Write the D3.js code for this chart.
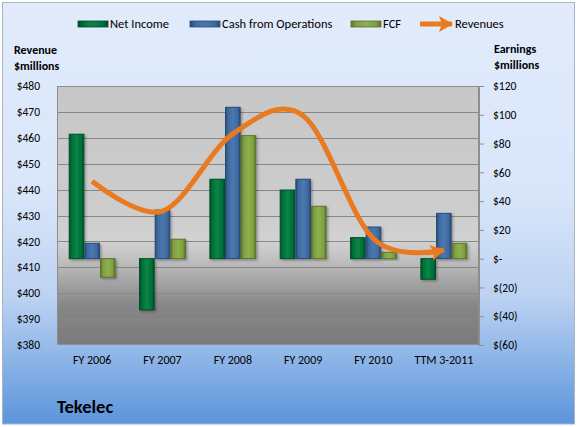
<!DOCTYPE html>
<html>
<head>
<meta charset="utf-8">
<script src="https://cdn.jsdelivr.net/npm/d3@7"></script>
<style>
  body{margin:0;background:#fff;}
  svg text{font-family:Carlito,Lato,"Liberation Sans",sans-serif;fill:#000;}
</style>
</head>
<body>
<div class="canvas"></div>
<script>
// values ($ millions)
const categories = ['FY 2006','FY 2007','FY 2008','FY 2009','FY 2010','TTM 3-2011'];
const netIncome  = [86.5, -35.6, 55.2, 47.7, 14.6, -14.3];
const cashOps    = [10.7, 33.8, 105.2, 55.2, 22.0, 31.5];
const fcf        = [-12.9, 13.5, 85.5, 36.4, 4.4, 10.7];
const revenues   = [443.2, 431.7, 461.5, 468.5, 421.0, 416.7];
const seriesNames = ['Net Income','Cash from Operations','FCF'];
const leftTicks  = [380,390,400,410,420,430,440,450,460,470,480];
const rightTicks = [-60,-40,-20,0,20,40,60,80,100,120];

const W = 577, H = 427;
const m = {t:86, r:98, b:82, l:57};   // plot area 57..479 x 86..345

const svg = d3.select('.canvas').append('svg')
  .attr('width',W).attr('height',H);
const defs = svg.append('defs');

// background of chart area
const bg = defs.append('linearGradient').attr('id','bgGrad')
  .attr('x1',0).attr('y1',0).attr('x2',0).attr('y2',1);
[[0,'#e1ebfb'],[0.45,'#d9e6fa'],[0.7,'#bcd2f2'],[1,'#5b95dc']].forEach(s=>{
  bg.append('stop').attr('offset',s[0]).attr('stop-color',s[1]);
});
// plot area grey
const pg = defs.append('linearGradient').attr('id','plotGrad')
  .attr('x1',0).attr('y1',0).attr('x2',0).attr('y2',1);
[[0,'#c7c7c7'],[0.5,'#cdcdcd'],[0.6,'#d2d2d2'],[0.68,'#bdbdbd'],[0.85,'#868686'],[1,'#7b7b7b']].forEach(s=>{
  pg.append('stop').attr('offset',s[0]).attr('stop-color',s[1]);
});

// bevel-ish fills for bars
const barColors = {
  'Net Income':           {base:'#007139', edge:'#004d26', hi:'#0b8446'},
  'Cash from Operations': {base:'#3e6aa0', edge:'#294b76', hi:'#4b78ae'},
  'FCF':                  {base:'#80a042', edge:'#5a722c', hi:'#8db04b'}
};
seriesNames.forEach((s,i)=>{
  const g = defs.append('linearGradient').attr('id','bar'+i)
    .attr('x1',0).attr('y1',0).attr('x2',1).attr('y2',0);
  const c = barColors[s];
  [[0,c.edge],[0.18,c.base],[0.5,c.hi],[0.82,c.base],[1,c.edge]].forEach(st=>{
    g.append('stop').attr('offset',st[0]).attr('stop-color',st[1]);
  });
});
defs.append('filter').attr('id','shadow')
  .attr('x','-20%').attr('y','-20%').attr('width','150%').attr('height','150%')
  .append('feDropShadow').attr('dx',1.5).attr('dy',1.5).attr('stdDeviation',1)
  .attr('flood-color','#000').attr('flood-opacity',0.3);

// arrow marker for the revenue line
const orange = '#ea7a1f';
defs.append('marker').attr('id','arrow')
  .attr('markerUnits','userSpaceOnUse')
  .attr('viewBox','0 0 14 16').attr('refX',13).attr('refY',8)
  .attr('markerWidth',14).attr('markerHeight',16).attr('orient','auto')
  .append('path').attr('d','M0,0 L14,8 L0,16 L3,8 Z').attr('fill',orange);

svg.append('rect').attr('x',2.5).attr('y',2.5).attr('width',572).attr('height',421.5)
  .attr('fill','url(#bgGrad)').attr('stroke','#a9b4c2');

// scales
const x = d3.scaleBand().domain(categories).range([m.l, W-m.r]);
const xs = d3.scaleBand().domain(seriesNames).range([0, x.bandwidth()])
  .paddingInner(0).paddingOuter(0.75);
const yL = d3.scaleLinear().domain([380,480]).range([H-m.b, m.t]);
const yR = d3.scaleLinear().domain([-60,120]).range([H-m.b, m.t]);

// plot area
svg.append('rect').attr('x',m.l).attr('y',m.t)
  .attr('width',W-m.r-m.l).attr('height',H-m.b-m.t)
  .attr('fill','url(#plotGrad)');

// gridlines on left axis
svg.append('g').selectAll('line').data(leftTicks.slice(1,-1)).enter()
  .append('line')
  .attr('x1',m.l).attr('x2',W-m.r)
  .attr('y1',d=>Math.round(yL(d))+0.5).attr('y2',d=>Math.round(yL(d))+0.5)
  .attr('stroke','#878787').attr('stroke-width',1);

// plot border
svg.append('rect').attr('x',m.l+0.5).attr('y',m.t+0.5)
  .attr('width',W-m.r-m.l-1).attr('height',H-m.b-m.t-1)
  .attr('fill','none').attr('stroke','#8e8e8e');

// left axis
const axL = svg.append('g').attr('transform',`translate(${m.l},0)`)
  .call(d3.axisLeft(yL).tickValues(leftTicks).tickSize(0).tickPadding(17)
    .tickFormat(d=>'$'+d));
axL.select('.domain').remove();
axL.selectAll('text').style('font-size','11.5px');

// right axis
const fmtR = d => d===0 ? '$-' : (d<0 ? `$(${-d})` : '$'+d);
const axR = svg.append('g').attr('transform',`translate(${W-m.r},0)`)
  .call(d3.axisRight(yR).tickValues(rightTicks).tickSize(5).tickSizeOuter(0)
    .tickPadding(9).tickFormat(fmtR));
axR.select('.domain').attr('stroke','#8e8e8e');
axR.selectAll('line').attr('stroke','#8e8e8e');
axR.selectAll('text').style('font-size','11.5px').attr('text-anchor','start');

// bottom axis labels
const axB = svg.append('g').attr('transform',`translate(0,${H-m.b})`)
  .call(d3.axisBottom(x).tickSize(0).tickPadding(10));
axB.select('.domain').remove();
axB.selectAll('text').style('font-size','12px');

// bars
const rows = categories.map((c,i)=>({cat:c, vals:[netIncome[i], cashOps[i], fcf[i]]}));
const groups = svg.append('g').selectAll('g').data(rows).enter()
  .append('g').attr('transform',d=>`translate(${x(d.cat)},0)`);
groups.selectAll('rect')
  .data(d=>d.vals.map((v,i)=>({name:seriesNames[i], v:v, i:i})))
  .enter().append('rect')
  .attr('x',d=>xs(d.name)+0.5)
  .attr('width',xs.bandwidth()-1)
  .attr('y',d=>yR(Math.max(0,d.v)))
  .attr('height',d=>Math.abs(yR(d.v)-yR(0)))
  .attr('fill',d=>`url(#bar${d.i})`)
  .attr('stroke',d=>barColors[d.name].edge)
  .attr('stroke-width',1)
  .attr('filter','url(#shadow)');

// revenue line, smoothed like the spreadsheet
const line = d3.line()
  .x((d,i)=>x(categories[i])+x.bandwidth()/2)
  .y(d=>yL(d))
  .curve(d3.curveCatmullRom.alpha(0));
svg.append('path').datum(revenues)
  .attr('d',line)
  .attr('fill','none')
  .attr('stroke',orange)
  .attr('stroke-width',5)
  .attr('marker-end','url(#arrow)');

// axis titles
const titleL = svg.append('text').attr('x',14).attr('y',54)
  .style('font-size','12px').style('font-weight','bold');
titleL.append('tspan').attr('x',14).text('Revenue');
titleL.append('tspan').attr('x',14).attr('dy',16).text('$millions');
const titleR = svg.append('text').attr('x',494).attr('y',53)
  .style('font-size','12px').style('font-weight','bold');
titleR.append('tspan').attr('x',494).text('Earnings');
titleR.append('tspan').attr('x',494).attr('dy',16).text('$millions');

// legend
const legend = svg.append('g');
const legX = [78, 190, 351];
seriesNames.forEach((s,i)=>{
  legend.append('rect').attr('x',legX[i]).attr('y',21).attr('width',30).attr('height',6)
    .attr('fill',`url(#bar${i})`).attr('stroke',barColors[s].edge).attr('stroke-width',0.8);
  legend.append('text').attr('x',legX[i]+32).attr('y',28)
    .style('font-size','12.5px').text(s);
});
legend.append('line').attr('x1',420).attr('x2',452).attr('y1',24).attr('y2',24)
  .attr('stroke',orange).attr('stroke-width',5).attr('marker-end','url(#arrow)');
legend.append('text').attr('x',455).attr('y',28).style('font-size','12.5px').text('Revenues');

// company name
svg.append('text').attr('x',57).attr('y',413)
  .style('font-size','18.5px').style('font-weight','bold').text('Tekelec');
</script>
</body>
</html>
